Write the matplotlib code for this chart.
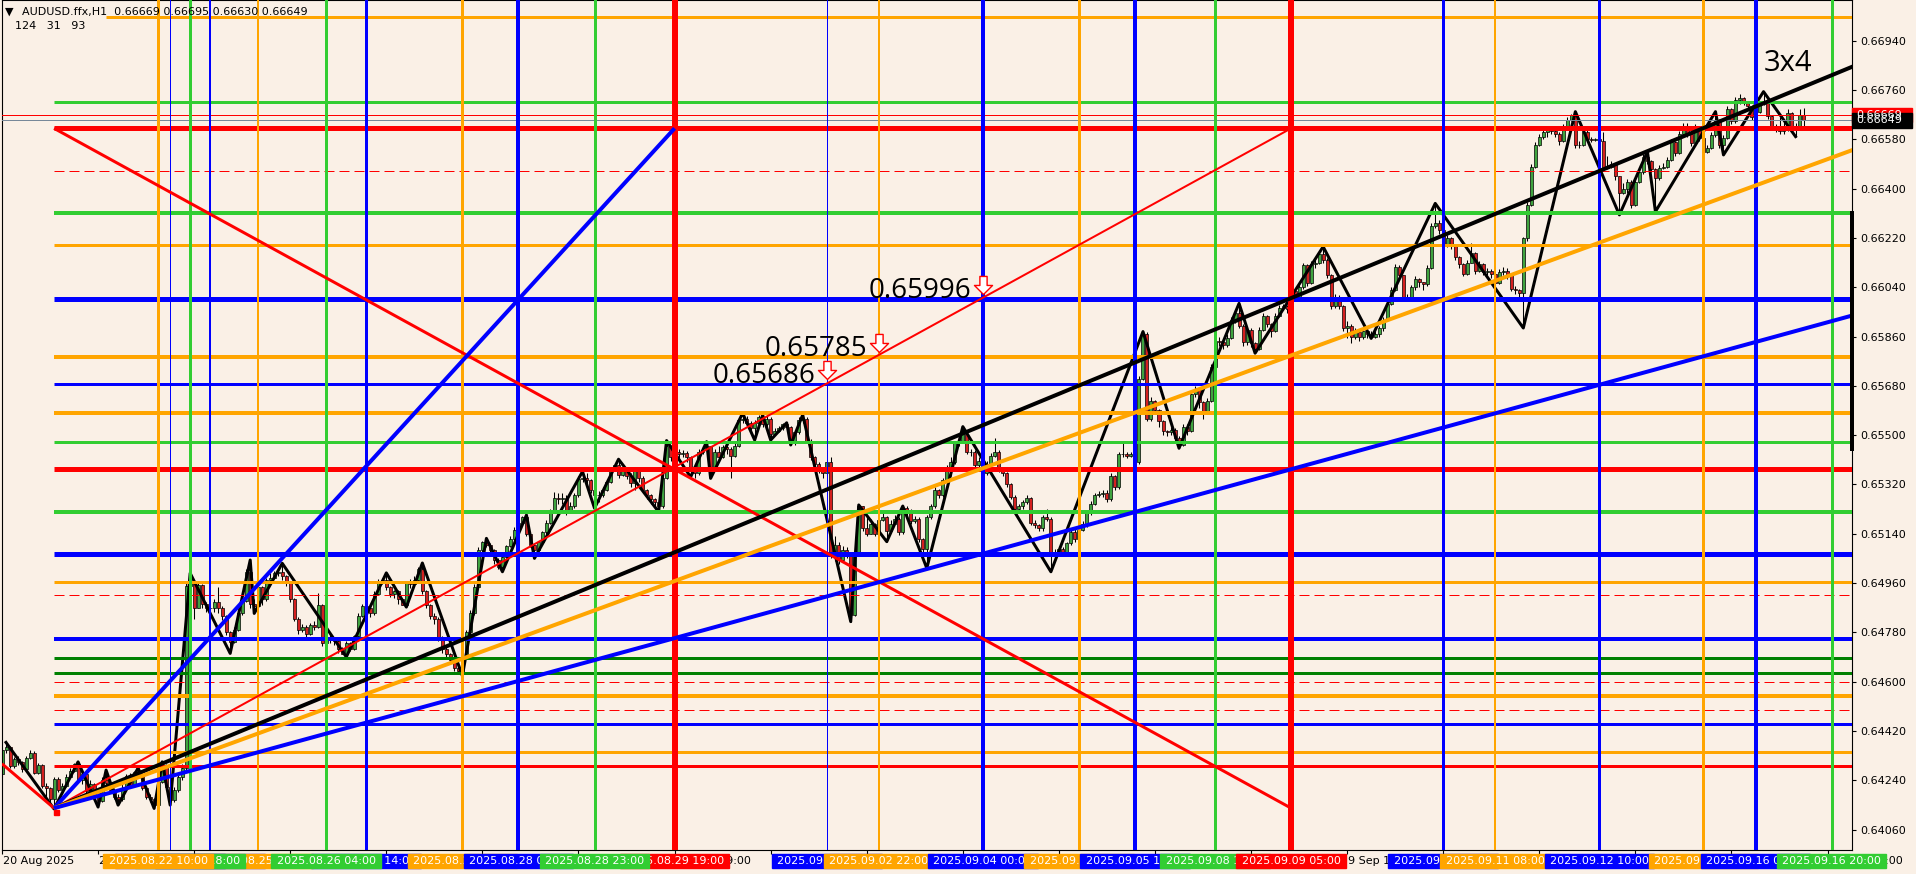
import numpy as np
import matplotlib.pyplot as plt
from matplotlib.path import Path
from matplotlib.patches import Rectangle
from matplotlib.transforms import blended_transform_factory

BG = '#faf0e6'
ORANGE = '#ffa500'
BLUE = '#0000ff'
LIME = '#32cd32'
DKGREEN = '#008000'
RED = '#ff0000'
BULL = '#3fa33f'
BEAR = '#d42020'

# ---- hourly candles: bar 0 = 2025.08.20 00:00, values are points above 0.64000 ----
first_bar = 19
first_open = 262
# (close, high, low)
aug20 = [(350,362,252),(360,378,338),(292,365,285),(318,326,286),(305,330,296)]
aug21 = [(282,310,270),(322,330,276),(338,352,318),(268,345,262),(296,302,262),(218,300,210),
         (210,228,180),(172,214,160),(245,252,135),(205,250,198),(220,228,196),(252,262,215),
         (275,285,250),(298,302,270),(240,307,232),(262,270,225),(200,265,192),(225,240,195),
         (185,228,170),(165,190,142),(240,250,160),(230,277,220),(205,238,195),(180,210,170)]
aug22 = [(172,190,149),(210,225,165),(255,262,205),(220,268,212),(270,275,215),(260,285,250),
         (212,265,205),(180,220,172),(170,190,160),(150,175,137),(235,250,145),(295,307,230),
         (215,298,205),(168,220,149),(205,215,160),(250,262,198),(285,300,240),(950,965,270),
         (965,996,900),(870,970,830),(952,960,868),(885,955,870),(870,890,855),(870,880,845)]
aug25 = [(890,900,855),(870,945,850),(840,875,825),(780,845,770),(745,785,703),(790,800,740),
         (850,860,785),(895,905,845),(1000,1010,890),(885,1044,870),(875,900,849),(945,955,870),
         (900,950,880),(970,980,895),(980,995,960),(995,1005,975),(1000,1015,985),(985,1032,970),
         (960,990,950),(900,965,890),(830,905,820),(790,835,775),(800,812,780),(775,805,760)]
aug26 = [(805,815,770),(800,822,790),(880,922,795),(740,885,730),(760,775,735),(755,770,740),
         (750,762,735),(720,755,705),(700,725,700),(740,750,690),(720,745,710),(765,770,715),
         (840,850,760),(875,885,835),(870,890,860),(850,875,835),(920,930,845),(960,975,915),
         (970,980,955),(945,997,935),(920,950,910),(930,935,905),(900,935,885),(880,905,880)]
aug27 = [(960,965,872),(955,975,940),(970,985,950),(1010,1020,960),(930,1033,920),(880,935,870),
         (840,885,830),(830,850,810),(760,835,750),(720,765,705),(700,725,690),(680,705,665),
         (650,690,640),(640,665,630),(690,700,621),(780,790,685),(850,860,775),(945,955,845),
         (1080,1090,940),(1110,1115,1070),(1100,1123,1090),(1080,1105,1070),(1045,1085,1030),(1020,1050,1010)]
aug28 = [(1055,1060,1001),(1095,1100,1050),(1120,1130,1090),(1155,1165,1115),(1180,1195,1150),(1200,1205,1170),
         (1140,1208,1130),(1100,1145,1090),(1080,1105,1050),(1110,1115,1075),(1145,1150,1105),(1180,1190,1140),
         (1220,1230,1175),(1270,1293,1215),(1265,1290,1250),(1270,1290,1250),(1220,1280,1210),(1240,1255,1215),
         (1280,1290,1235),(1340,1350,1275),(1345,1367,1330),(1335,1360,1320),(1300,1340,1290),(1280,1305,1233)]
aug29 = [(1280,1295,1255),(1300,1310,1275),(1330,1340,1295),(1375,1385,1325),(1390,1395,1370),(1355,1412,1345),
         (1375,1390,1350),(1350,1385,1340),(1325,1360,1310),(1370,1380,1300),(1345,1375,1330),(1300,1350,1290),
         (1280,1305,1265),(1265,1285,1250),(1255,1270,1235),(1240,1262,1220),(1345,1355,1235),(1460,1480,1340),
         (1420,1465,1405),(1440,1450,1410),(1430,1448,1415),(1435,1445,1420),(1420,1442,1400),(1370,1425,1347)]
sep01 = [(1360,1380,1345),(1440,1450,1355),(1445,1460,1430),(1460,1476,1440),(1385,1462,1342),(1440,1450,1375),
         (1420,1460,1405),(1455,1465,1415),(1450,1470,1430),(1425,1455,1345),(1460,1470,1420),(1555,1565,1455),
         (1560,1580,1545),(1545,1570,1530),(1525,1550,1510),(1545,1555,1482),(1565,1575,1540),(1540,1573,1530),
         (1560,1570,1530),(1505,1565,1482),(1515,1525,1500),(1525,1535,1510),(1540,1544,1520),(1530,1545,1520)]
sep02 = [(1470,1535,1464),(1510,1520,1465),(1555,1565,1505),(1560,1574,1545),(1480,1565,1470),(1420,1485,1410),
         (1395,1425,1380),(1370,1400,1360),(1360,1375,1345),(1400,1410,1355),(1068,1420,1050),(1100,1130,1040),
         (1045,1110,1030),(1080,1095,1040),(1070,1090,1050),(845,1075,819),(1070,1085,840),(1240,1245,1065),
         (1160,1240,1150),(1140,1200,1130),(1175,1195,1160),(1140,1180,1130),(1190,1200,1135),(1200,1215,1185)]
sep03 = [(1150,1205,1111),(1175,1190,1160),(1195,1210,1175),(1145,1200,1135),(1235,1241,1140),(1225,1240,1200),
         (1185,1230,1175),(1195,1205,1180),(1120,1200,1110),(1085,1125,1070),(1200,1210,1014),(1240,1250,1195),
         (1300,1310,1235),(1280,1305,1270),(1335,1345,1275),(1380,1390,1330),(1400,1420,1350),(1470,1480,1395),
         (1480,1495,1460),(1505,1531,1475),(1440,1510,1430),(1440,1450,1425),(1390,1445,1375),(1405,1420,1380)]
sep04 = [(1360,1410,1350),(1395,1405,1355),(1425,1435,1390),(1440,1488,1420),(1375,1445,1365),(1360,1380,1350),
         (1320,1365,1310),(1275,1325,1265),(1230,1280,1220),(1240,1250,1225),(1255,1262,1230),(1270,1280,1250),
         (1180,1275,1170),(1170,1190,1160),(1160,1175,1150),(1200,1210,1150),(1195,1230,1185),(1060,1200,1001),
         (1065,1085,1040),(1085,1095,1060),(1075,1090,1065),(1105,1110,1070),(1145,1155,1100),(1120,1160,1110)]
sep05 = [(1155,1165,1100),(1175,1185,1150),(1215,1225,1165),(1250,1260,1210),(1280,1290,1245),(1285,1295,1275),
         (1290,1300,1275),(1265,1300,1255),(1350,1360,1260),(1310,1355,1300),(1430,1440,1305),(1430,1470,1420),
         (1425,1440,1415),(1430,1440,1420),(1400,1435,1390),(1705,1715,1395),(1870,1878,1700),(1560,1875,1550),
         (1625,1640,1550),(1590,1630,1580),(1550,1595,1530),(1515,1555,1500),(1510,1520,1495),(1520,1530,1500)]
sep08 = [(1490,1525,1480),(1465,1495,1452),(1530,1540,1460),(1515,1540,1500),(1650,1660,1510),(1665,1680,1640),
         (1620,1670,1600),(1585,1625,1560),(1625,1635,1580),(1750,1760,1620),(1845,1855,1745),(1840,1860,1825),
         (1830,1845,1815),(1855,1870,1820),(1920,1930,1850),(1945,1960,1910),(1900,1981,1890),(1840,1905,1825),
         (1885,1895,1830),(1835,1890,1820),(1815,1840,1799),(1885,1895,1810),(1935,1945,1880),(1905,1940,1895)]
sep09 = [(1880,1910,1860),(1935,1945,1875),(1965,1975,1930),(1970,1980,1955),(1960,1975,1945),(2025,2035,1955),
         (2000,2030,1990),(2040,2050,1990),(2120,2130,2035),(2055,2125,2045),(2125,2135,2050),(2130,2150,2110),
         (2160,2170,2125),(2140,2188,2130),(2085,2145,2075),(1970,2090,1960),(2005,2015,1965),(1970,2010,1960),
         (1890,1975,1880),(1900,1915,1855),(1860,1905,1835),(1875,1890,1850),(1860,1885,1845),(1880,1895,1850)]
sep10 = [(1870,1890,1855),(1860,1880,1853),(1870,1880,1855),(1890,1900,1860),(1920,1930,1880),(1980,1990,1915),
         (2030,2040,1975),(2115,2125,2025),(2085,2120,2075),(2005,2080,1995),(1995,2015,1990),(2040,2048,1990),
         (2070,2080,2030),(2060,2075,2040),(2050,2060,2030),(2110,2120,2045),(2265,2275,2105),(2275,2346,2255),
         (2250,2285,2235),(2190,2255,2180),(2220,2230,2185),(2190,2225,2180),(2150,2195,2140),(2125,2155,2110)]
sep11 = [(2090,2130,2080),(2130,2140,2085),(2165,2200,2155),(2100,2170,2090),(2125,2135,2095),(2095,2130,2085),
         (2100,2110,2085),(2090,2105,2075),(2055,2095,2045),(2095,2105,2050),(2100,2115,2085),(2085,2110,2070),
         (2035,2090,2025),(2030,2045,2015),(2018,2035,2000),(2218,2225,1891),(2340,2350,2210),(2480,2490,2335),
         (2560,2570,2475),(2590,2600,2555),(2605,2615,2580),(2615,2625,2590),(2610,2630,2600),(2600,2625,2590)]
sep12 = [(2572,2605,2560),(2626,2635,2570),(2650,2660,2620),(2670,2672,2645),(2560,2681,2550),(2560,2575,2550),
         (2605,2615,2555),(2580,2615,2570),(2578,2590,2570),(2580,2585,2572),(2575,2590,2565),(2475,2605,2465),
         (2480,2520,2470),(2490,2500,2475),(2445,2495,2430),(2385,2445,2304),(2400,2420,2380),(2425,2435,2385),
         (2340,2430,2330),(2425,2440,2335),(2460,2470,2420),(2515,2525,2455),(2500,2535,2490),(2470,2505,2460)]
sep15 = [(2440,2475,2316),(2475,2485,2430),(2480,2495,2470),(2505,2515,2475),(2570,2580,2500),(2530,2575,2520),
         (2600,2610,2525),(2630,2640,2595),(2600,2640,2590),(2565,2600,2555),(2625,2635,2555),(2585,2630,2575),
         (2535,2590,2525),(2550,2560,2530),(2595,2605,2545),(2650,2681,2590),(2560,2655,2550),(2585,2595,2523),
         (2690,2700,2580),(2645,2695,2635),(2725,2735,2640),(2730,2745,2710),(2715,2735,2705),(2700,2720,2690)]
sep16 = [(2660,2705,2650),(2680,2700,2655),(2710,2720,2675),(2720,2754,2705),(2665,2725,2655),(2630,2670,2620),
         (2615,2635,2605),(2610,2660,2600),(2615,2650,2600),(2675,2690,2610),(2625,2680,2615),(2630,2640,2590),
         (2669,2690,2620),(2649,2695,2630)]
days = [aug20, aug21, aug22, aug25, aug26, aug27, aug28, aug29, sep01, sep02, sep03,
        sep04, sep05, sep08, sep09, sep10, sep11, sep12, sep15, sep16]

# zigzag swing points (bar, points)
zig_bars = [20, 32, 38, 43, 45, 48, 53, 57, 59, 61, 66, 76, 81, 82, 89, 105, 115, 120, 124, 134,
            140, 144, 150, 152, 164, 167, 173, 183, 185, 191, 195, 196, 204, 207, 209, 211, 215, 216, 219, 231,
            233, 240, 244, 250, 259, 281, 304, 313, 328, 332, 349, 361, 377, 399, 412, 423, 430, 432, 447, 449,
            459, 467]
zig_pts = [378, 135, 307, 142, 277, 149, 285, 137, 307, 149, 996, 703, 1044, 849, 1032, 690, 997, 872, 1033, 621,
           1123, 1001, 1208, 1050, 1367, 1233, 1412, 1220, 1480, 1347, 1476, 1342, 1580, 1482, 1573, 1482, 1545, 1464, 1574, 819,
           1245, 1111, 1241, 1014, 1531, 1001, 1878, 1452, 1981, 1799, 2188, 1853, 2346, 1891, 2681, 2304, 2535, 2316, 2681, 2523,
           2754, 2590]

# horizontal levels: price, colour, width(px), dashed
h_price = [0.67028, 0.66717, 0.66620, 0.66464, 0.66310, 0.66193, 0.65997, 0.65784, 0.65687, 0.65580,
           0.65474, 0.65376, 0.65219, 0.65066, 0.64963, 0.64916, 0.64755, 0.64685, 0.64630, 0.64598,
           0.64546, 0.64496, 0.64445, 0.64342, 0.64292]
h_color = [ORANGE, LIME, RED, RED, LIME, ORANGE, BLUE, ORANGE, BLUE, ORANGE,
           LIME, RED, LIME, BLUE, ORANGE, RED, BLUE, DKGREEN, DKGREEN, RED,
           ORANGE, RED, BLUE, ORANGE, RED]
h_width = [3, 3, 5, 1, 4, 3, 5, 4, 3, 4, 3, 5, 4, 5, 3, 1, 4, 3, 3, 1, 4, 1, 3, 3, 3]
h_dash = [False, False, False, True, False, False, False, False, False, False,
          False, False, False, False, False, True, False, False, False, True,
          False, True, False, False, False]
h_start = 32

# vertical lines: bar, colour, width(px), label, label stacking order
v_bar = [58, 61, 66, 71, 83, 100, 110, 134, 148, 167, 187, 225, 238, 264, 288, 302, 322, 341,
         379, 392, 418, 444, 457, 476]
v_color = [ORANGE, BLUE, LIME, BLUE, ORANGE, LIME, BLUE, ORANGE, BLUE, LIME, RED, BLUE, ORANGE, BLUE,
           ORANGE, BLUE, LIME, RED, BLUE, ORANGE, BLUE, ORANGE, BLUE, LIME]
v_width = [3, 1, 3, 2, 2, 3, 3, 3, 4, 3, 6, 1, 2, 4, 3, 4, 3, 6, 3, 2, 3, 3, 4, 3]
v_label = ['2025.08.22 10:00', '2025.08.22 13:00', '2025.08.22 18:00', '2025.08.22 23:00',
           '2025.08.25 11:00', '2025.08.26 04:00', '2025.08.26 14:00', '2025.08.27 14:00',
           '2025.08.28 04:00', '2025.08.28 23:00', '2025.08.29 19:00', '2025.09.02 09:00',
           '2025.09.02 22:00', '2025.09.04 00:00', '2025.09.05 00:00', '2025.09.05 14:00',
           '2025.09.08 10:00', '2025.09.09 05:00', '2025.09.10 19:00', '2025.09.11 08:00',
           '2025.09.12 10:00', '2025.09.15 12:00', '2025.09.16 01:00', '2025.09.16 20:00']
v_order = [4, 1, 3, 1, 2, 3, 2, 3, 4, 5, 4, 5, 6, 7, 8, 9, 10, 11, 12, 13, 14, 15, 16, 17]

# gann box / fan lines: bar0, price0, bar1, price1, colour, width(px)
fan_lines = [
    (19, 0.64300, 32, 0.64138, RED, 3),
    (32, 0.66620, 341, 0.64138, RED, 3),
    (32, 0.64138, 341, 0.66620, RED, 2),
    (32, 0.64138, 187, 0.66620, BLUE, 4),
    (32, 0.64138, 482, 0.66850, 'black', 4),
    (32, 0.64138, 482, 0.66545, ORANGE, 4),
    (32, 0.64138, 482, 0.65940, BLUE, 4),
]

# price marks at the gann diagonal
mark_bar = [264, 238, 225]
mark_price = [0.65996, 0.65785, 0.65686]

time_ticks = [19, 43, 67, 91, 115, 139, 163, 187, 211, 235, 259, 283, 307, 331, 355, 379, 403, 427, 451, 475]
time_labels = ['20 Aug 2025', '21 Aug 19:00', '22 Aug 19:00', '25 Aug 19:00', '26 Aug 19:00',
               '27 Aug 19:00', '28 Aug 19:00', '29 Aug 19:00', '1 Sep 19:00', '2 Sep 19:00',
               '3 Sep 19:00', '4 Sep 19:00', '5 Sep 19:00', '8 Sep 19:00', '9 Sep 19:00',
               '10 Sep 19:00', '11 Sep 19:00', '12 Sep 19:00', '15 Sep 19:00', '16 Sep 19:00']
price_ticks = [0.64060, 0.64240, 0.64420, 0.64600, 0.64780, 0.64960, 0.65140, 0.65320, 0.65500,
               0.65680, 0.65860, 0.66040, 0.66220, 0.66400, 0.66580, 0.66760, 0.66940]
ask_price = 0.66669
bid_price = 0.66649


def pw(w):
    # pixel width -> points (100 dpi)
    return w * 0.72


rows = np.array([r for d in days for r in d], dtype=float)
bars = first_bar + np.arange(len(rows))
close = 0.64 + rows[:, 0] / 1e5
high = 0.64 + rows[:, 1] / 1e5
low = 0.64 + rows[:, 2] / 1e5
opens = np.r_[0.64 + first_open / 1e5, close[:-1]]
high = np.maximum(high, np.maximum(opens, close))
low = np.minimum(low, np.minimum(opens, close))

W, H = 1916, 874
fig = plt.figure(figsize=(W / 100, H / 100), dpi=100, facecolor=BG)
ax = fig.add_axes([2 / W, 24 / H, 1850 / W, 850 / H], facecolor=BG)
ax.set_xlim(19.1, 481.1)
ax.set_ylim(0.639852, 0.670886)

# candles
ax.vlines(bars, low, high, color='black', lw=0.75, zorder=2)
up = close >= opens
ax.bar(bars[up], (close - opens)[up], bottom=opens[up], width=0.75,
       color=BULL, edgecolor='black', lw=0.5, zorder=2.1)
ax.bar(bars[~up], (opens - close)[~up], bottom=close[~up], width=0.75,
       color=BEAR, edgecolor='black', lw=0.5, zorder=2.1)

# zigzag
ax.plot(zig_bars, 0.64 + np.array(zig_pts) / 1e5, color='black', lw=pw(3), zorder=2.5)

# horizontal levels
for p, c, w, d in zip(h_price, h_color, h_width, h_dash):
    ls = (0, (10, 5)) if d else '-'
    ax.hlines(p, h_start if p < 0.67 else 45, 490, color=c, lw=pw(w), linestyles=ls, zorder=3)

# current price lines
ax.axhline(ask_price, color=RED, lw=pw(1), zorder=3)
ax.axhline(bid_price, color='#778899', lw=pw(1), zorder=3)

# vertical lines
for b, c, w in zip(v_bar, v_color, v_width):
    ax.axvline(b, color=c, lw=pw(w), zorder=3.2)

# gann lines
for b0, p0, b1, p1, c, w in fan_lines:
    ax.plot([b0, b1], [p0, p1], color=c, lw=pw(w), zorder=3.5, solid_capstyle='butt')
ax.plot([32.6], [0.64125], marker='s', ms=3.6, color=RED, zorder=3.6)

# hollow down arrows with price texts
arrow = Path([(-0.2, 1), (0.2, 1), (0.2, 0.5), (0.5, 0.5), (0, 0), (-0.5, 0.5), (-0.2, 0.5), (-0.2, 1)],
             [Path.MOVETO] + [Path.LINETO] * 6 + [Path.CLOSEPOLY])
for b, p in zip(mark_bar, mark_price):
    ax.plot([b], [p + 0.00018], marker=arrow, ms=26, mfc='white', mec=RED, mew=1, zorder=6)
    ax.text(b - 2.8, p + 0.00004, f'{p:.5f}', ha='right', va='baseline', fontsize=20,
            family='Open Sans', color='black', zorder=6)

ax.text(459, 0.66855, '3x4', ha='left', va='center', fontsize=21, family='Open Sans', color='black', zorder=6)

# right price scale
ax.yaxis.tick_right()
ax.set_yticks(price_ticks)
ax.set_yticklabels([f'{p:.5f}' for p in price_ticks])
ax.tick_params(axis='y', length=3, width=0.8, pad=3, labelsize=8, colors='black')
ax.set_xticks(time_ticks)
ax.set_xticklabels([])
ax.tick_params(axis='x', length=3, width=0.8)
for s in ax.spines.values():
    s.set_color('black')
    s.set_linewidth(0.8)

ty = blended_transform_factory(ax.transAxes, ax.transData)
tx = blended_transform_factory(ax.transData, ax.transAxes)
ax.plot([1.0, 1.0], [0.66310, 0.65450], transform=ty, color='black', lw=pw(4), clip_on=False, zorder=8)
for p, c, t in [(ask_price, RED, '0.66669'), (bid_price, 'black', '0.66649')]:
    ax.add_patch(Rectangle((1.0, p - 0.00026), 60 / 1850, 0.00052, transform=ty, color=c,
                           clip_on=False, zorder=9))
    ax.text(1.0 + 4 / 1850, p, t, transform=ty, color='white', fontsize=8, va='center',
            ha='left', clip_on=False, zorder=9.5)

# time scale labels
for b, t in zip(time_ticks, time_labels):
    ax.text(b + 0.3, -11 / 850, t, transform=tx, fontsize=8, va='center', ha='left',
            color='black', clip_on=False, zorder=5)
for b, c, t, o in zip(v_bar, v_color, v_label, v_order):
    ax.add_patch(Rectangle((b - 13.7, -18 / 850), 27.4, 14 / 850, transform=tx, color=c,
                           clip_on=False, zorder=10 + 2 * o))
    ax.text(b, -11 / 850, t, transform=tx, fontsize=8, va='center', ha='center',
            color='white', clip_on=False, zorder=11 + 2 * o)

# header
fig.text(5 / W, 1 - 12 / H, '\u25bc', fontsize=8, va='center', ha='left', color='black')
fig.text(22 / W, 1 - 12 / H, 'AUDUSD.ffx,H1  0.66669 0.66695 0.66630 0.66649', fontsize=8,
         va='center', ha='left', color='black')
fig.text(15 / W, 1 - 26 / H, '124   31   93', fontsize=8, va='center', ha='left', color='black')

fig.savefig('out.png', dpi=100, facecolor=BG)
